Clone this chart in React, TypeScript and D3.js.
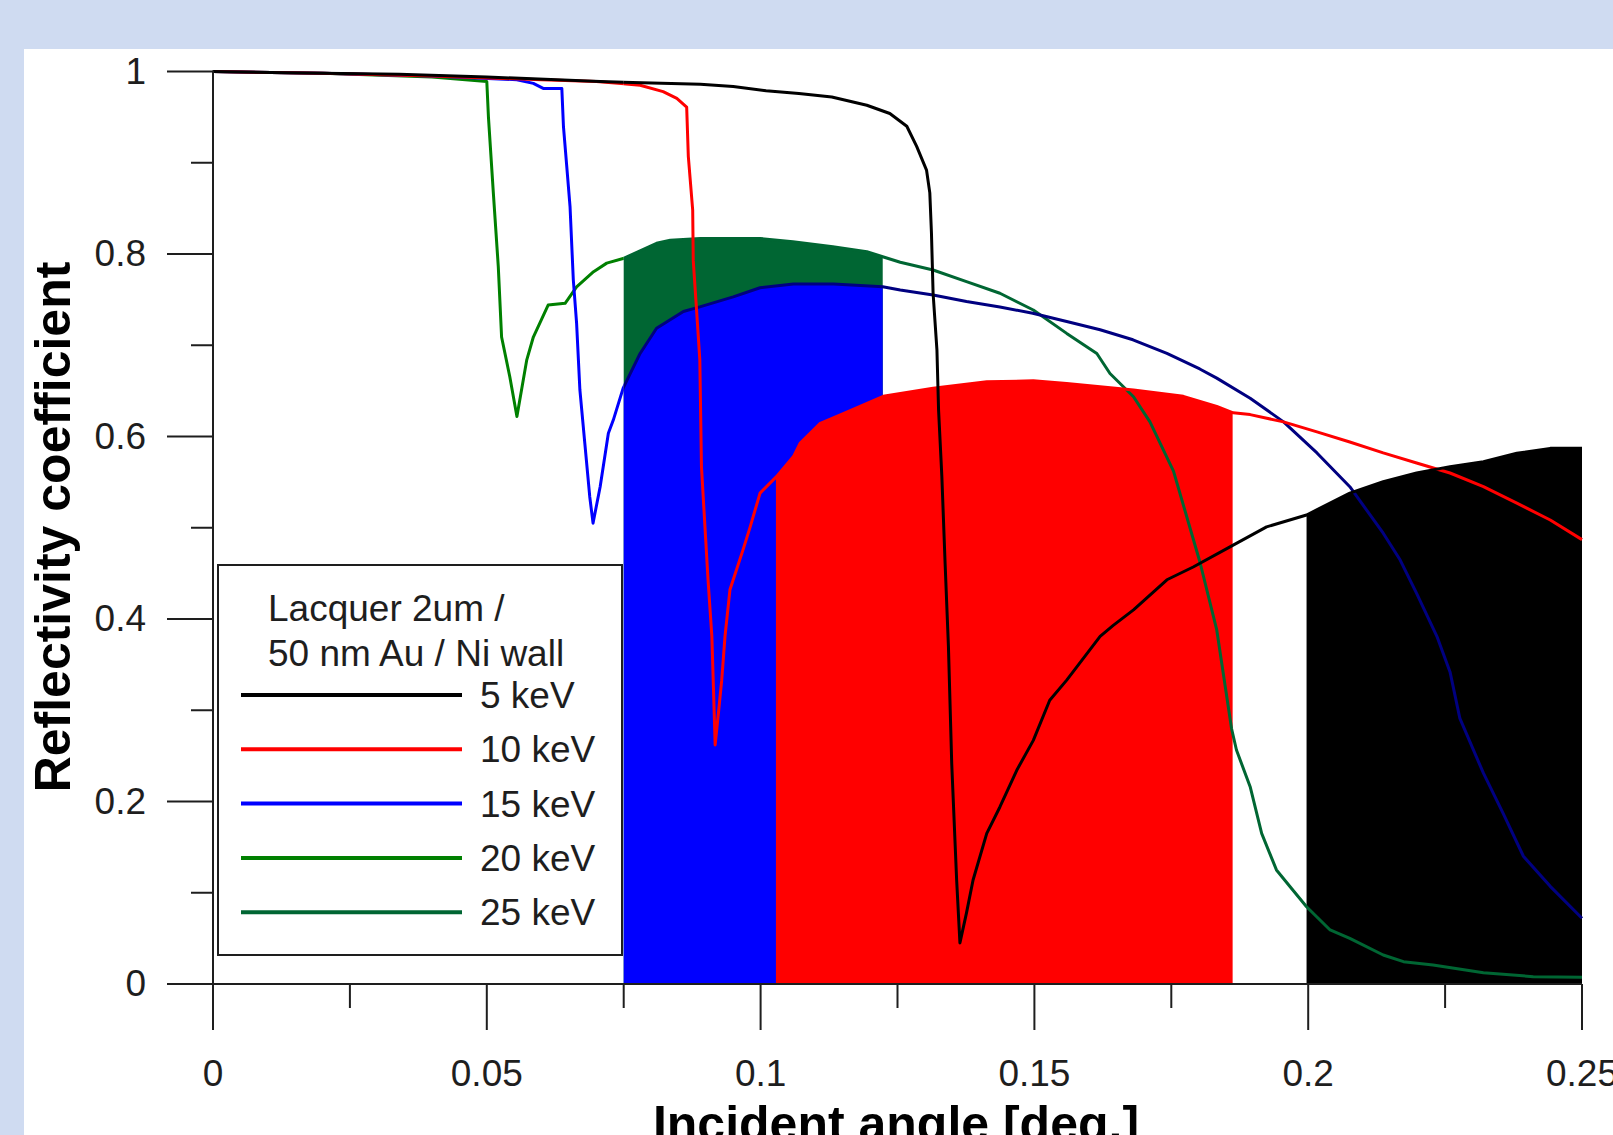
import React from 'react';
import * as d3 from 'd3';

const W = 1613;
const H = 1135;

// [incident angle (deg), reflectivity]
const r5keV: [number, number][] = [
  [0, 1.0], [0.02, 0.998], [0.034, 0.997], [0.05, 0.994], [0.0707, 0.989], [0.089, 0.986],
  [0.095, 0.9835], [0.101, 0.979], [0.107, 0.976], [0.113, 0.972], [0.1194, 0.963], [0.1236, 0.954],
  [0.1267, 0.94], [0.1285, 0.918], [0.1303, 0.892], [0.1309, 0.867], [0.1312, 0.823], [0.1315, 0.757],
  [0.1322, 0.695], [0.1325, 0.629], [0.1331, 0.556], [0.1337, 0.46], [0.1343, 0.37], [0.1349, 0.242],
  [0.1358, 0.114], [0.1364, 0.045], [0.1376, 0.078], [0.1388, 0.114], [0.1413, 0.165], [0.1437, 0.194],
  [0.1468, 0.2345], [0.1498, 0.267], [0.1528, 0.311], [0.1559, 0.333], [0.162, 0.381], [0.1644, 0.393],
  [0.1681, 0.41], [0.1742, 0.443], [0.179, 0.457], [0.1863, 0.481], [0.1924, 0.501], [0.1997, 0.514],
  [0.2076, 0.538], [0.2137, 0.5505], [0.2198, 0.56], [0.2259, 0.567], [0.232, 0.5724], [0.2381, 0.5816],
  [0.2442, 0.587], [0.25, 0.587],
];

const r10keV: [number, number][] = [
  [0, 1.0], [0.02, 0.998], [0.04, 0.995], [0.06, 0.991], [0.07, 0.989], [0.078, 0.985],
  [0.0822, 0.978], [0.0847, 0.9706], [0.0865, 0.961], [0.0868, 0.907], [0.0876, 0.848], [0.0877, 0.793],
  [0.0883, 0.739], [0.0889, 0.684], [0.0892, 0.567], [0.0898, 0.505], [0.0904, 0.443], [0.0911, 0.381],
  [0.0914, 0.322], [0.0917, 0.262], [0.0923, 0.297], [0.0929, 0.333], [0.0935, 0.381], [0.0944, 0.432],
  [0.095, 0.443], [0.0968, 0.476], [0.0981, 0.501], [0.0999, 0.538], [0.1029, 0.556], [0.106, 0.578],
  [0.1072, 0.5925], [0.1108, 0.614], [0.1151, 0.625], [0.1224, 0.644], [0.1315, 0.653], [0.1413, 0.66],
  [0.1498, 0.661], [0.1559, 0.658], [0.1681, 0.651], [0.1772, 0.644], [0.1833, 0.633], [0.1863, 0.626],
  [0.1894, 0.624], [0.1955, 0.616], [0.2016, 0.605], [0.2076, 0.594], [0.2137, 0.582], [0.2198, 0.571],
  [0.2259, 0.56], [0.232, 0.545], [0.2381, 0.527], [0.2442, 0.5085], [0.25, 0.487],
];

const r15keV: [number, number][] = [
  [0, 1.0], [0.02, 0.998], [0.04, 0.995], [0.0555, 0.991], [0.0585, 0.987], [0.0603, 0.9815],
  [0.0637, 0.9815], [0.064, 0.9395], [0.0646, 0.896], [0.0652, 0.852], [0.0658, 0.7715], [0.0664, 0.724],
  [0.067, 0.651], [0.0679, 0.5925], [0.0688, 0.534], [0.0694, 0.505], [0.0707, 0.545], [0.0722, 0.6035],
  [0.0731, 0.618], [0.0749, 0.653], [0.078, 0.691], [0.081, 0.7186], [0.0859, 0.737], [0.0889, 0.742],
  [0.095, 0.753], [0.0999, 0.763], [0.106, 0.767], [0.1133, 0.767], [0.1223, 0.764], [0.1255, 0.7605],
  [0.1315, 0.755], [0.1376, 0.748], [0.1437, 0.742], [0.1497, 0.735], [0.1559, 0.726], [0.162, 0.717],
  [0.168, 0.706], [0.1742, 0.691], [0.1802, 0.674], [0.1833, 0.664], [0.1894, 0.642], [0.1955, 0.616],
  [0.2016, 0.582], [0.2076, 0.545], [0.2137, 0.494], [0.2168, 0.4646], [0.2198, 0.428], [0.2235, 0.381],
  [0.2259, 0.342], [0.2277, 0.291], [0.232, 0.231], [0.2356, 0.187], [0.2393, 0.14], [0.2442, 0.107],
  [0.25, 0.072],
];

const r20keV: [number, number][] = [
  [0, 1.0], [0.02, 0.998], [0.04, 0.994], [0.05, 0.989], [0.0503, 0.95], [0.0512, 0.8665],
  [0.0521, 0.786], [0.0527, 0.709], [0.0542, 0.6655], [0.0555, 0.622], [0.0573, 0.684], [0.0585, 0.709],
  [0.0612, 0.744], [0.0643, 0.746], [0.0664, 0.764], [0.0695, 0.7806], [0.0719, 0.79], [0.0749, 0.795],
  [0.081, 0.8117], [0.0835, 0.815], [0.089, 0.817], [0.0999, 0.817], [0.1059, 0.8135], [0.1132, 0.808],
  [0.1194, 0.8025], [0.1223, 0.797], [0.1255, 0.791], [0.1315, 0.7825], [0.1376, 0.7697], [0.1437, 0.757],
  [0.1498, 0.7386], [0.1559, 0.713], [0.1614, 0.691], [0.1638, 0.669], [0.1681, 0.6436], [0.1711, 0.616],
  [0.1754, 0.562], [0.1802, 0.463], [0.1833, 0.388], [0.186, 0.28], [0.1869, 0.2564], [0.1894, 0.2162],
  [0.1915, 0.165], [0.1942, 0.125], [0.1967, 0.1066], [0.1997, 0.0847], [0.204, 0.0592], [0.2076, 0.05],
  [0.2137, 0.0318], [0.2174, 0.0245], [0.2228, 0.0208], [0.232, 0.0124], [0.2411, 0.008], [0.25, 0.0073],
];

const legendTitle = ['Lacquer 2um /', '50 nm Au / Ni wall'];
const legendLabels = ['5 keV', '10 keV', '15 keV', '20 keV', '25 keV'];
const legendColors = ['#000000', '#ff0000', '#0000ff', '#008000', '#006633'];

const xTicks = [0, 0.05, 0.1, 0.15, 0.2, 0.25];
const xTickLabels = ['0', '0.05', '0.1', '0.15', '0.2', '0.25'];
const xMinor = [0.025, 0.075, 0.125, 0.175, 0.225];
const yTicks = [0, 0.2, 0.4, 0.6, 0.8, 1];
const yTickLabels = ['0', '0.2', '0.4', '0.6', '0.8', '1'];
const yMinor = [0.1, 0.3, 0.5, 0.7, 0.9];

// the lines change colour where the shaded windows begin
const splitAt = 0.075;
const curves = [
  { data: r20keV, head: '#008000', tail: '#006633' },
  { data: r15keV, head: '#0000ff', tail: '#000080' },
  { data: r10keV, head: '#ff0000', tail: '#ff0000' },
  { data: r5keV, head: '#000000', tail: '#000000' },
];

// shaded angle windows under a curve
const windows = [
  { data: r20keV, from: 0.075, to: 0.1223, color: '#006633' },
  { data: r15keV, from: 0.075, to: 0.1223, color: '#0000ff' },
  { data: r10keV, from: 0.1028, to: 0.1862, color: '#ff0000' },
  { data: r5keV, from: 0.1997, to: 0.25, color: '#000000' },
];

const FONT = '"Liberation Sans", Arial, sans-serif';
const INK = '#1e1e1e';

export default function App() {
  const x = d3.scaleLinear().domain([0, 0.25]).range([213, 1582]);
  const y = d3.scaleLinear().domain([0, 1]).range([984, 71.5]);

  const line = d3.line<[number, number]>().x(d => x(d[0])).y(d => y(d[1]));
  const area = d3.area<[number, number]>().x(d => x(d[0])).y0(y(0)).y1(d => y(d[1]));

  const [x0, x1] = x.range();
  const [y0, y1] = y.range();

  return (
    <svg width={W} height={H} style={{ position: 'absolute', left: 0, top: 0, display: 'block' }}>
      <defs>
        {windows.map((w, i) => (
          <clipPath id={`win${i}`} key={i}>
            <rect x={x(w.from)} y={0} width={x(w.to) - x(w.from)} height={H} />
          </clipPath>
        ))}
        <clipPath id="head">
          <rect x={0} y={0} width={x(splitAt)} height={H} />
        </clipPath>
        <clipPath id="tail">
          <rect x={x(splitAt)} y={0} width={W} height={H} />
        </clipPath>
      </defs>

      <rect x={0} y={0} width={W} height={H} fill="#cfdbf1" />
      <rect x={24} y={49} width={W - 24} height={H - 49} fill="#ffffff" />

      {windows.map((w, i) => (
        <path key={i} d={area(w.data) || ''} fill={w.color} clipPath={`url(#win${i})`} />
      ))}

      {curves.map((c, i) => (
        <g key={i} fill="none" strokeWidth={3} strokeLinejoin="round">
          <path d={line(c.data) || ''} stroke={c.head} clipPath="url(#head)" />
          <path d={line(c.data) || ''} stroke={c.tail} clipPath="url(#tail)" />
        </g>
      ))}

      {/* axes */}
      <g stroke={INK} strokeWidth={2}>
        <line x1={x0} y1={y1 - 1} x2={x0} y2={y0} />
        <line x1={167} y1={y0} x2={x1} y2={y0} />
        {yTicks.map(t => <line key={t} x1={167} y1={y(t)} x2={x0} y2={y(t)} />)}
        {yMinor.map(t => <line key={t} x1={191} y1={y(t)} x2={x0} y2={y(t)} />)}
        {xTicks.map(t => <line key={t} x1={x(t)} y1={y0} x2={x(t)} y2={y0 + 46} />)}
        {xMinor.map(t => <line key={t} x1={x(t)} y1={y0} x2={x(t)} y2={y0 + 24} />)}
      </g>

      <g fontFamily={FONT} fontSize={37} fill={INK}>
        {yTicks.map((t, i) => (
          <text key={t} x={146} y={y(t) + 12} textAnchor="end">{yTickLabels[i]}</text>
        ))}
        {xTicks.map((t, i) => (
          <text key={t} x={x(t)} y={1086} textAnchor="middle">{xTickLabels[i]}</text>
        ))}
      </g>

      <text x={896} y={1141} textAnchor="middle" fontFamily={FONT} fontWeight="bold" fontSize={50} fill="#000">
        Incident angle [deg.]
      </text>
      <text transform="translate(70,527) rotate(-90)" textAnchor="middle" fontFamily={FONT}
        fontWeight="bold" fontSize={50} fill="#000">
        Reflectivity coefficient
      </text>

      {/* legend */}
      <rect x={218} y={565} width={404} height={390} fill="#fff" stroke={INK} strokeWidth={2} />
      <g fontFamily={FONT} fontSize={37} fill={INK}>
        {legendTitle.map((t, i) => (
          <text key={t} x={268} y={621 + i * 45}>{t}</text>
        ))}
        {legendLabels.map((t, i) => {
          const ly = 695 + i * 54.3;
          return (
            <g key={t}>
              <line x1={241} x2={462} y1={ly} y2={ly} stroke={legendColors[i]} strokeWidth={4} />
              <text x={480} y={ly + 13}>{t}</text>
            </g>
          );
        })}
      </g>
    </svg>
  );
}
